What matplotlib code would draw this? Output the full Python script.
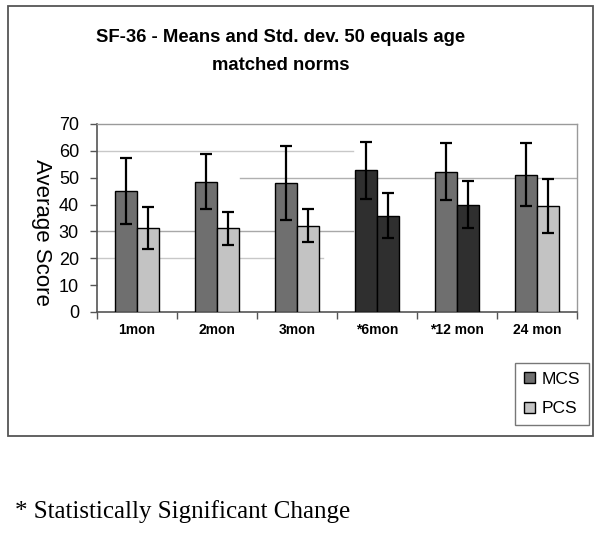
import matplotlib
matplotlib.use("Agg")
import matplotlib.pyplot as plt
import numpy as np
from matplotlib.patches import Rectangle, Patch

categories = ["1mon", "2mon", "3mon", "*6mon", "*12 mon", "24 mon"]
mcs_mean = [45.0, 48.5, 48.0, 52.7, 52.3, 51.1]
mcs_sd = [12.3, 10.3, 13.9, 10.7, 10.7, 11.8]
pcs_mean = [31.2, 31.2, 32.2, 35.9, 40.0, 39.4]
pcs_sd = [7.9, 6.1, 6.0, 8.4, 8.8, 10.0]
yticks = [0, 10, 20, 30, 40, 50, 60, 70]

MID = "#6f6f6f"
LIGHT = "#c3c3c3"
DARK = "#2f2f2f"
mcs_colors = [MID, MID, MID, DARK, MID, MID]
pcs_colors = [LIGHT, LIGHT, LIGHT, DARK, DARK, LIGHT]

fig = plt.figure(figsize=(6.01, 5.37), dpi=100)
fig.patch.set_facecolor("white")

# outer frame
fig.patches.append(Rectangle((8/601, 1-436/537), (593-8)/601, (436-6)/537,
                             transform=fig.transFigure, fill=False,
                             edgecolor="#555555", linewidth=1.3, zorder=0))

ax = fig.add_axes([97/601, 1-312/537, 480/601, 188/537])
x = np.arange(len(categories)) + 0.5
w = 0.275
ax.bar(x - w/2, mcs_mean, w, color=mcs_colors, edgecolor="black", linewidth=1.0,
       yerr=mcs_sd, error_kw=dict(ecolor="black", elinewidth=1.6, capsize=4.5, capthick=1.6),
       zorder=3)
ax.bar(x + w/2, pcs_mean, w, color=pcs_colors, edgecolor="black", linewidth=1.0,
       yerr=pcs_sd, error_kw=dict(ecolor="black", elinewidth=1.6, capsize=4.5, capthick=1.6),
       zorder=3)

# partial gridlines as in the scanned reference
ax.axhline(60, 0, 0.533, color="#c8c8c8", lw=1.0, zorder=1)
ax.axhline(50, 0.298, 1, color="#b0b0b0", lw=1.0, zorder=1)
ax.axhline(30, 0, 0.533, color="#a8a8a8", lw=1.0, zorder=1)
ax.axhline(20, 0, 0.47, color="#c8c8c8", lw=1.0, zorder=1)

ax.set_xlim(0, len(categories))
ax.set_ylim(0, 70)
ax.set_yticks(yticks)
ax.set_yticklabels([str(t) for t in yticks], fontsize=13, family="Liberation Sans")
ax.set_xticks(np.arange(len(categories) + 1))
ax.set_xticklabels([])
ax.set_xticks(x, minor=True)
ax.set_xticklabels(categories, minor=True, fontsize=10, fontweight="bold", family="Liberation Sans")
ax.tick_params(axis="x", which="minor", length=0, pad=8)
ax.tick_params(axis="x", which="major", length=5, width=1, color="#555555")
ax.tick_params(axis="y", length=5, width=1, color="#555555", pad=8)
for s in ["top", "right"]:
    ax.spines[s].set_color("#9a9a9a")
    ax.spines[s].set_linewidth(1.0)
for s in ["left", "bottom"]:
    ax.spines[s].set_color("#555555")
    ax.spines[s].set_linewidth(1.2)

fig.text(41/601, 1-232/537, "Average Score", rotation=-90, ha="center", va="center",
         fontsize=16, family="Liberation Sans")

fig.text(281/601, 1-37/537, "SF-36 - Means and Std. dev. 50 equals age", ha="center",
         va="center", fontsize=13.3, fontweight="bold", family="Liberation Sans")
fig.text(281/601, 1-66/537, "matched norms", ha="center",
         va="center", fontsize=13.3, fontweight="bold", family="Liberation Sans")

handles = [Patch(facecolor=MID, edgecolor="black", label="MCS"),
           Patch(facecolor=LIGHT, edgecolor="black", label="PCS")]
leg = fig.legend(handles=handles, loc="upper left", bbox_to_anchor=(515/601, 1-363/537),
                 frameon=True, fancybox=False, edgecolor="#555555",
                 prop=dict(family="Liberation Sans", size=12.5),
                 handlelength=0.65, handleheight=0.65, handletextpad=0.4,
                 borderpad=0.5, labelspacing=0.85, borderaxespad=0)
leg.get_frame().set_linewidth(1.0)

fig.text(15/601, 1-512/537, "* Statistically Significant Change", ha="left", va="center",
         fontsize=18, family="Liberation Serif")

fig.savefig("out.png", dpi=100, facecolor="white")
